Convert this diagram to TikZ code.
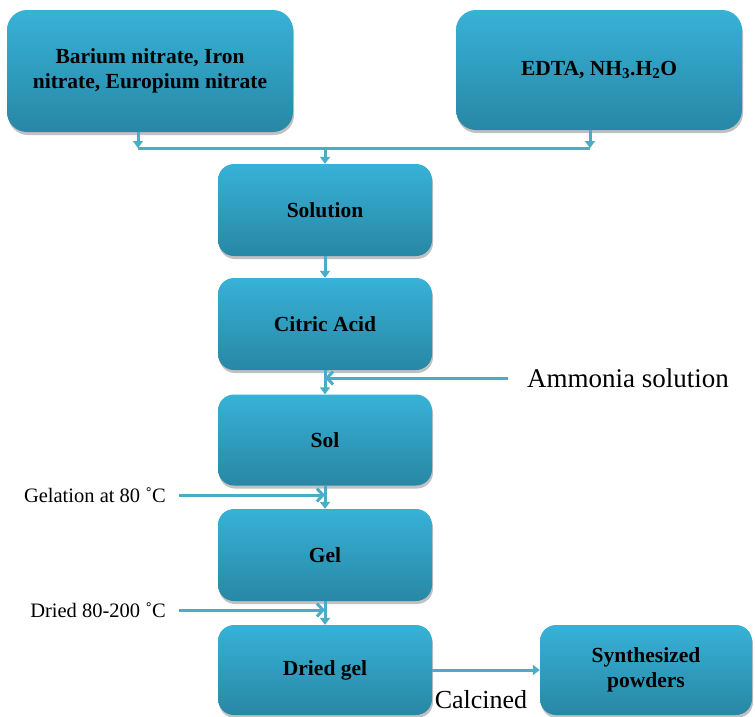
\documentclass[tikz,border=0pt]{standalone}
\usepackage{fontspec}
\setmainfont{Liberation Serif}
\usetikzlibrary{arrows.meta,shadows}
\definecolor{boxtop}{RGB}{55,178,215}
\definecolor{boxmid}{RGB}{50,165,201}
\definecolor{boxbottom}{RGB}{40,135,165}
\definecolor{arrowblue}{RGB}{75,172,198}

\begin{document}
\begin{tikzpicture}[x=1pt,y=-1pt]
                        \tikzstyle{procbox}=[rectangle, rounded corners=16pt, top color=boxtop, middle color=boxmid, bottom color=boxbottom,
                            drop shadow={shadow xshift=1pt, shadow yshift=-3pt, opacity=0.35, fill=black!70},
                            align=center, inner sep=0pt, minimum width=214pt, minimum height=91pt,
                            font=\bfseries\fontsize{21.5}{25}\selectfont]
                        \tikzstyle{flowarrow}=[draw=arrowblue, line width=3pt, -{Triangle[length=7pt,width=10pt]}]
                        \tikzstyle{flowline}=[draw=arrowblue, line width=3pt]
                        \tikzstyle{sidearrow}=[draw=arrowblue, line width=3pt, -{Straight Barb[length=6pt,width=13pt]}]
                        \tikzstyle{note}=[inner sep=0pt, font=\fontsize{20.5}{24}\selectfont]
                        \useasboundingbox (0,0) rectangle (755,716);
                        \node[procbox, minimum width=286pt, minimum height=122pt, rounded corners=20pt] (nitrates) at (150,71) {Barium nitrate, Iron\\nitrate, Europium nitrate};
                        \node[procbox, minimum width=286pt, minimum height=120pt, rounded corners=20pt] (edta) at (599,70) {EDTA, NH\textsubscript{3}.H\textsubscript{2}O};
                        \node[procbox, minimum height=92pt] (solution) at (325,210) {Solution};
                        \node[procbox, minimum height=92pt] (citric) at (325,324) {Citric Acid};
                        \node[procbox] (sol) at (325,440) {Sol};
                        \node[procbox, minimum height=92pt] (gel) at (325,555) {Gel};
                        \node[procbox, minimum height=90pt] (driedgel) at (325,670) {Dried gel};
                        \node[procbox, minimum width=212pt, minimum height=90pt] (powders) at (646,670) {Synthesized\\powders};
                        \coordinate (mixleft) at (138,148);
                        \coordinate (mixright) at (590,148);
                        \coordinate (mixmid) at (325,148);
                        \draw[flowarrow] (nitrates.south -| mixleft) -- (mixleft);
                        \draw[flowarrow] (edta.south -| mixright) -- (mixright);
                        \draw[flowline] (mixleft) -- (mixright);
                        \draw[flowarrow] (mixmid) -- (solution.north);
                        \draw[flowarrow] (solution.south) -- (citric.north);
                        \draw[flowarrow] (citric.south) -- (sol.north);
                        \draw[flowarrow] (sol.south) -- (gel.north);
                        \draw[flowarrow] (gel.south) -- (driedgel.north);
                        \draw[flowarrow] (driedgel.east) -- (powders.west);
                        \node[note, anchor=west, font=\fontsize{27}{30}\selectfont] (ammonia) at (527,378) {Ammonia solution};
                        \draw[sidearrow, shorten <=19pt] (ammonia.west) -- (ammonia.west -| sol.north);
                        \node[note, anchor=east] (gelation) at (166,495) {Gelation at 80 ˚C};
                        \draw[sidearrow, shorten <=13pt] (gelation.east) -- (gelation.east -| gel.north);
                        \node[note, anchor=east] (drying) at (166,610) {Dried 80-200 ˚C};
                        \draw[sidearrow, shorten <=13pt] (drying.east) -- (drying.east -| driedgel.north);
                        \node[note, font=\fontsize{26}{30}\selectfont] (calcined) at (481,700) {Calcined};
                    \end{tikzpicture}
\end{document}
